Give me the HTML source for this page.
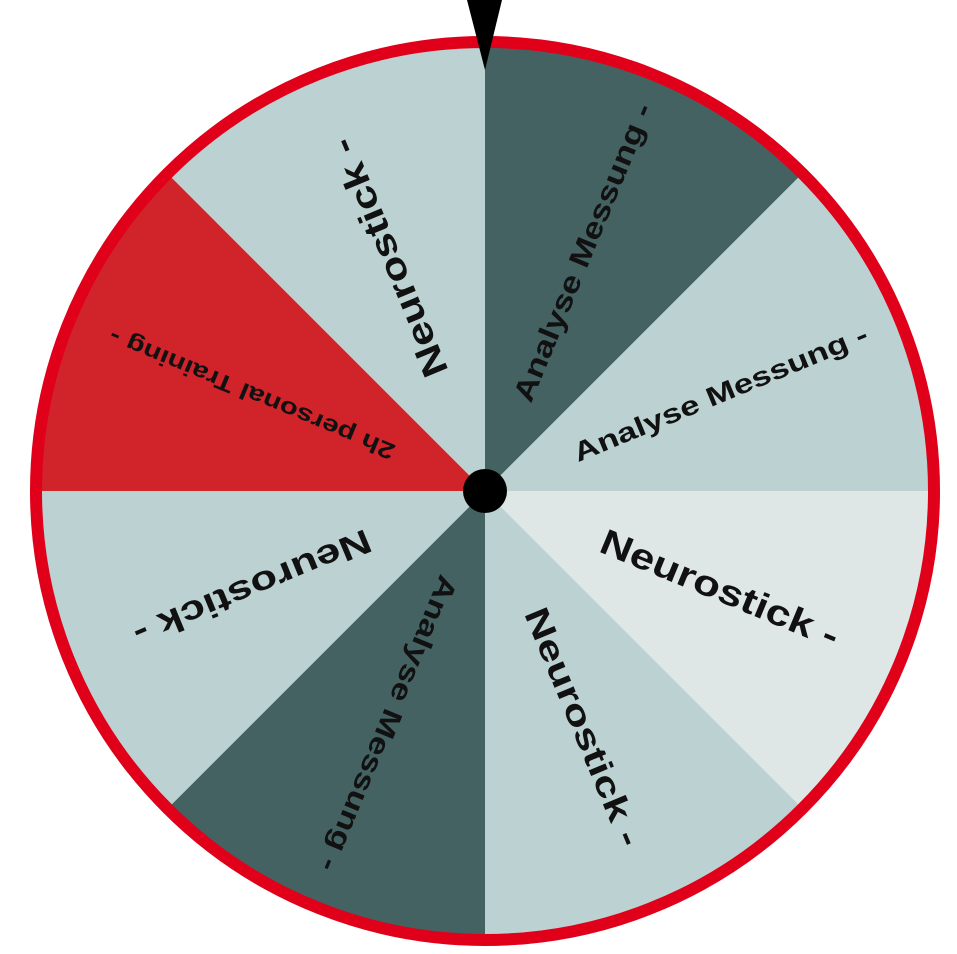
<!DOCTYPE html>
<html><head><style>html,body{margin:0;padding:0;background:#fff}svg{display:block}</style></head>
<body>
<svg width="957" height="954" viewBox="0 0 957 954" xmlns="http://www.w3.org/2000/svg" font-family="Liberation Sans, sans-serif" font-weight="bold">
<g transform="translate(485,491)">
<path d="M0 0 L0 -450 A450 450 0 0 1 318.2 -318.2 Z" fill="#456263"/>
<path d="M0 0 L318.2 -318.2 A450 450 0 0 1 450 0 Z" fill="#bcd1d1"/>
<path d="M0 0 L450 0 A450 450 0 0 1 318.2 318.2 Z" fill="#dfe6e6"/>
<path d="M0 0 L318.2 318.2 A450 450 0 0 1 0 450 Z" fill="#bcd1d1"/>
<path d="M0 0 L0 450 A450 450 0 0 1 -318.2 318.2 Z" fill="#456263"/>
<path d="M0 0 L-318.2 318.2 A450 450 0 0 1 -450 0 Z" fill="#bcd1d1"/>
<path d="M0 0 L-450 0 A450 450 0 0 1 -318.2 -318.2 Z" fill="#d0232a"/>
<path d="M0 0 L-318.2 -318.2 A450 450 0 0 1 0 -450 Z" fill="#bcd1d1"/>
<circle r="449" fill="none" stroke="#e0001a" stroke-width="12"/>
<g fill="#111" dominant-baseline="central">
<text transform="rotate(-67.5)" x="98" y="0" font-size="29" textLength="320" lengthAdjust="spacingAndGlyphs">Analyse Messung -</text>
<text transform="rotate(-22.5)" x="97" y="0" font-size="27" textLength="316" lengthAdjust="spacingAndGlyphs">Analyse Messung -</text>
<text transform="rotate(22.5)" x="127" y="0" font-size="36" textLength="255" lengthAdjust="spacingAndGlyphs">Neurostick -</text>
<text transform="rotate(67.5)" x="128" y="0" font-size="34" textLength="255" lengthAdjust="spacingAndGlyphs">Neurostick -</text>
<text transform="rotate(112.5)" x="93" y="0" font-size="28" textLength="318" lengthAdjust="spacingAndGlyphs">Analyse Messung -</text>
<text transform="rotate(157.5)" x="125" y="0" font-size="34" textLength="254" lengthAdjust="spacingAndGlyphs">Neurostick -</text>
<text transform="rotate(202.5)" x="99" y="0" font-size="23" textLength="307" lengthAdjust="spacingAndGlyphs">2h personal Training -</text>
<text transform="rotate(-112.5)" x="125" y="0" font-size="36" textLength="255" lengthAdjust="spacingAndGlyphs">Neurostick -</text>
</g>
<circle r="22" fill="#000"/>
</g>
<polygon points="467,0 502,0 485,70" fill="#000"/>
</svg>
</body></html>
